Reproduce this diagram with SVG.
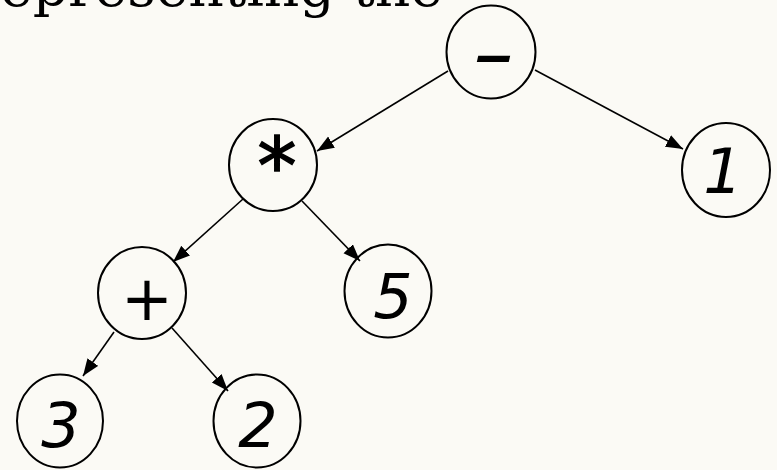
<svg xmlns="http://www.w3.org/2000/svg" width="777" height="470" viewBox="0 0 777 470">
  <style>
    .node { fill: none; stroke: #000; stroke-width: 2; }
    .label { font-family: "DejaVu Sans", Verdana, sans-serif; font-style: italic; font-size: 62px; fill: #000; text-anchor: middle; }
    .edge { stroke: #000; stroke-width: 1.6; fill: none; marker-end: url(#arrow); }
    .caption { font-family: "DejaVu Serif", "Liberation Serif", serif; font-size: 55px; fill: #000; }
  </style>
  <defs>
    <marker id="arrow" markerUnits="userSpaceOnUse" markerWidth="18" markerHeight="14" refX="17" refY="6.5" orient="auto">
      <path d="M0,0 L17,6.5 L0,13 z" fill="#000"/>
    </marker>
  </defs>

  <rect width="777" height="470" fill="#fbfaf5"/>

  <!-- heading line, running off the top edge -->
  <text class="caption" x="0" y="6" textLength="443" lengthAdjust="spacingAndGlyphs">epresenting the</text>

  <!-- tree edges -->
  <g id="edges">
    <line class="edge" x1="448" y1="71" x2="317" y2="151"/>
    <line class="edge" x1="535" y1="70" x2="683" y2="149"/>
    <line class="edge" x1="243" y1="199" x2="173" y2="262"/>
    <line class="edge" x1="302" y1="201" x2="360" y2="261"/>
    <line class="edge" x1="114" y1="332" x2="83" y2="376"/>
    <line class="edge" x1="172" y1="328" x2="228" y2="391"/>
  </g>

  <g id="node-minus">
    <ellipse class="node" cx="491" cy="52" rx="44.5" ry="46.5"/>
    <text class="label" x="475" y="76" style="text-anchor:start; stroke:#000; stroke-width:1.8" textLength="37" lengthAdjust="spacingAndGlyphs">–</text>
  </g>
  <g id="node-times">
    <ellipse class="node" cx="273" cy="165" rx="44" ry="46"/>
    <text class="label" x="277" y="193" style="font-size:78px; stroke:#000; stroke-width:1.6">*</text>
  </g>
  <g id="node-one">
    <ellipse class="node" cx="726" cy="170" rx="44" ry="47"/>
    <text class="label" x="723" y="193">1</text>
  </g>
  <g id="node-plus">
    <ellipse class="node" cx="142" cy="293" rx="44" ry="46"/>
    <text class="label" x="147" y="320">+</text>
  </g>
  <g id="node-five">
    <ellipse class="node" cx="388" cy="291" rx="43.5" ry="46.5"/>
    <text class="label" x="393" y="318">5</text>
  </g>
  <g id="node-three">
    <ellipse class="node" cx="60" cy="421" rx="43" ry="46.5"/>
    <text class="label" x="61" y="447">3</text>
  </g>
  <g id="node-two">
    <ellipse class="node" cx="257" cy="421" rx="43.5" ry="46.5"/>
    <text class="label" x="258" y="447">2</text>
  </g>
</svg>
